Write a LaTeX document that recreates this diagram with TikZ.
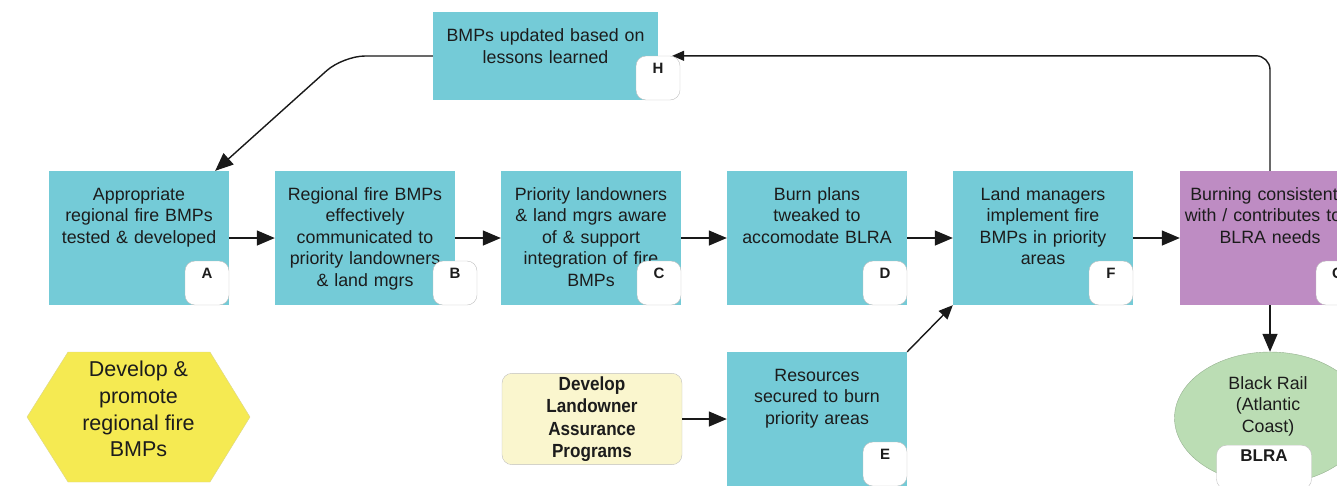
\documentclass[tikz,border=0pt]{standalone}
\usepackage{fontspec}
\setmainfont{Liberation Sans}
\newfontfamily\condfont{Liberation Sans}[FakeStretch=0.9]
\usetikzlibrary{arrows.meta,shapes.geometric}

\definecolor{stageteal}{RGB}{116,203,215}
\definecolor{goalpurple}{RGB}{190,140,195}
\definecolor{railgreen}{RGB}{187,221,180}
\definecolor{hexyellow}{RGB}{245,234,82}
\definecolor{progcream}{RGB}{250,246,206}
\definecolor{textgray}{RGB}{28,28,28}

\begin{document}
\begin{tikzpicture}[x=1pt,y=-1pt,
    every node/.style={text=textgray},
    body/.style={font=\fontsize{17.8}{21.5}\selectfont},
    stage/.style={body, fill=stageteal, inner xsep=4pt, inner ysep=0pt, text width=172pt,
      align=center, text height=29pt, text depth=105pt},
    tag/.style={fill=white, draw=black!25, rounded corners=10pt, inner sep=0pt, minimum width=44pt,
      text height=17.5pt, text depth=26.5pt, font=\bfseries\fontsize{15}{15}\selectfont},
    arr/.style={line width=1.4pt, black!90, -{Triangle[length=18pt,width=15pt]}},
  ]
  \useasboundingbox (0,0) rectangle (1337,485);

  % main chain of results
  \node[stage] (A) at (139,238) {Appropriate\\regional fire BMPs\\tested \& developed};
  \node[stage] (B) at (365,238) {Regional fire BMPs\\effectively\\communicated to\\priority landowners\\\& land mgrs};
  \node[stage] (C) at (591,238) {Priority landowners\\\& land mgrs aware\\of \& support\\integration of fire\\BMPs};
  \node[stage] (D) at (817,238) {Burn plans\\tweaked to\\accomodate BLRA};
  \node[stage] (F) at (1043,238) {Land managers\\implement fire\\BMPs in priority\\areas};
  \node[stage, fill=goalpurple] (G) at (1270,238) {\hspace*{-12pt}Burning consistent\\\hspace*{-14pt}with / contributes to\\BLRA needs};
  \node[stage, text width=217pt, text height=29.5pt, text depth=58.5pt] (H) at (545.5,56) {BMPs updated based on\\lessons learned};
  \node[stage] (E) at (817,419) {Resources\\secured to burn\\priority areas};

  % strategy boxes
  \node[fill=progcream, draw=black!25, rounded corners=10pt, minimum width=180pt, minimum height=88pt,
    align=center, font=\condfont\bfseries\fontsize{19}{22.3}\selectfont] (prog) at (592,419)
    {Develop\\Landowner\\Assurance\\Programs};
  \coordinate (hexc) at (138.5,417);
  \filldraw[fill=hexyellow, draw=hexyellow!80!black!60] ([xshift=-111.5pt]hexc) -- ++(41,-65) -- ++(142,0)
    -- ++(40,65) -- ++(-40,65) -- ++(-142,0) -- cycle;
  \node[align=center, font=\fontsize{21.5}{26.8}\selectfont] (hex) at (138.5,409) {Develop \&\\promote\\regional fire\\BMPs};

  % target
  \node[ellipse, fill=railgreen, draw=railgreen!80!black, minimum width=191pt, minimum height=132pt] (blra) at (1270,418) {};
  \node[body, align=center] (blra-t) at (1268,406) {Black Rail\\(Atlantic\\Coast)};
  \node[tag, anchor=north, minimum width=95pt, text height=16pt, text depth=28pt,
    font=\bfseries\fontsize{17}{17}\selectfont] (blra-tag) at (1264,445) {BLRA};

  % badges
  \foreach \n/\dx in {A/0,B/22,C/0,D/0,E/0,F/0,G/0,H/22}
    \node[tag, anchor=south east] (\n-tag) at ([xshift=\dx pt]\n.south east) {\n};

  % connectors
  \foreach \a/\b in {A/B,B/C,C/D,D/F,F/G}
    \draw[arr] (\a) -- (\b);
  \draw[arr] (prog) -- (E);
  \draw[arr, -{Triangle[length=14pt,width=12pt]}] (E.north east) -- (F.south west);
  \draw[arr] (G) -- (blra);
  \coordinate (turn) at (343,56);
  \draw[arr, rounded corners=22pt] (H.west) -- (turn) -- ([xshift=-14pt]A.north east);
  \draw[arr, -{Triangle[length=12pt,width=10pt]}, rounded corners=14pt] (G.north) |- ([xshift=-8pt]H-tag.north east);
\end{tikzpicture}
\end{document}
